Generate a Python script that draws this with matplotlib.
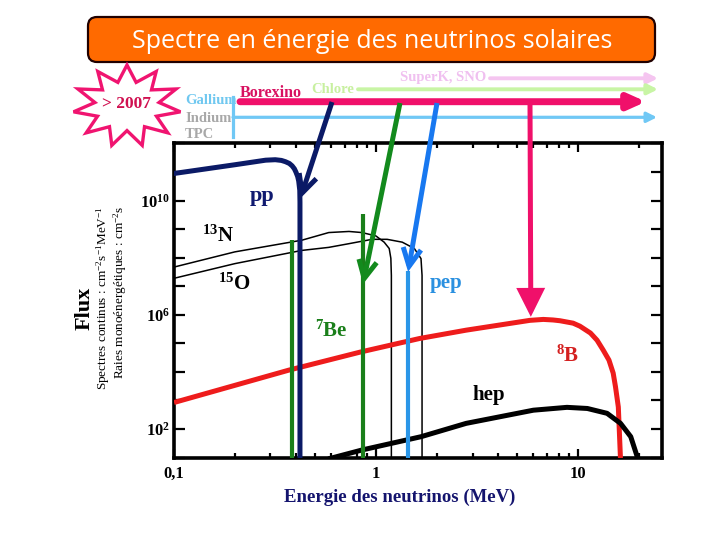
import matplotlib
matplotlib.use('Agg')
import matplotlib.pyplot as plt
from matplotlib.patches import FancyBboxPatch, Polygon
from matplotlib.ticker import FixedLocator, NullLocator, FixedFormatter, NullFormatter
import numpy as np

plt.rcParams['font.family'] = ['Liberation Serif', 'DejaVu Serif']
plt.rcParams['mathtext.fontset'] = 'custom'
plt.rcParams['mathtext.rm'] = 'Liberation Serif'
plt.rcParams['mathtext.bf'] = 'Liberation Serif:bold'
plt.rcParams['mathtext.it'] = 'Liberation Serif:italic'
plt.rcParams['mathtext.default'] = 'bf'

# ---------------- data ----------------
pp_E = [0.10, 0.20, 0.284, 0.317, 0.340, 0.356, 0.372, 0.384, 0.394, 0.401, 0.409, 0.414, 0.419, 0.420, 0.420]
pp_F = [8.9e10, 1.8e11, 2.6e11, 2.7e11, 2.55e11, 2.3e11, 2.0e11, 1.65e11, 1.3e11, 1.0e11, 7.0e10, 4.8e10,
        2.3e10, 8.9e9, 1.0]

n13_E = [0.10, 0.20, 0.429, 0.583, 0.734, 0.851, 0.997, 1.096, 1.161, 1.183, 1.19, 1.19]
n13_F = [4.7e7, 1.6e8, 4.1e8, 7.6e8, 8.3e8, 7.6e8, 5.8e8, 3.5e8, 2.1e8, 9.5e7, 2.4e7, 1.0]

o15_E = [0.10, 0.20, 0.429, 0.583, 0.734, 0.955, 1.134, 1.347, 1.546, 1.668, 1.688, 1.688]
o15_F = [1.9e7, 6.2e7, 1.8e8, 2.3e8, 3.1e8, 4.4e8, 4.4e8, 3.5e8, 2.1e8, 9.3e7, 2.4e7, 1.0]

b8_E = [0.10, 0.369, 0.839, 1.64, 2.79, 4.09, 5.77, 6.72, 7.51, 8.13, 9.44, 10.2, 11.5, 12.4,
        13.3, 14.2, 14.9, 15.3, 15.8, 16.3]
b8_F = [8.5e2, 1.15e4, 5.0e4, 1.48e5, 2.9e5, 4.4e5, 6.4e5, 6.9e5, 6.6e5, 6.2e5, 5.1e5, 4.0e5, 2.3e5, 1.29e5,
        5.8e4, 2.6e4, 9.1e3, 3.0e3, 5.9e2, 3.0]

hep_E = [0.58, 0.855, 1.67, 2.79, 6.0, 8.8, 11.1, 13.9, 16.2, 18.2, 19.6, 19.8]
hep_F = [9.0, 18.6, 54, 158, 457, 575, 525, 355, 158, 54, 10.7, 5.0]

be7_E = [0.384, 0.862]
be7_F = [4.1e8, 3.5e9]
pep_E = [1.44]
pep_F = [3.5e7]

# arrow tips (energy, flux) for the experiments' sensitivity arrows
tip_pp = (0.422, 1.2e10)
tip_be = (0.862, 1.2e7)
tip_pep = (1.44, 3.2e7)
tip_b8 = (5.83, 8.5e5)

x_ticks = [0.1, 1, 10]
x_ticklabels = ['0,1', '1', '10']
x_minor = [0.2, 0.3, 0.4, 0.5, 0.6, 0.7, 0.8, 0.9, 2, 3, 4, 5, 6, 7, 8, 9, 20]
y_ticks = [1e1, 1e2, 1e3, 1e4, 1e5, 1e6, 1e7, 1e8, 1e9, 1e10, 1e11, 1e12]
y_ticklabels = ['', r'$10^{2}$', '', '', '', r'$10^{6}$', '', '', '', r'$10^{10}$', '', '']

NAVY = '#0b1a66'
GREEN = '#1a7f1a'
PEP = '#2a96e8'
RED = '#ee1c1c'
PINK = '#f0106a'

fig = plt.figure(figsize=(7.2, 5.4), dpi=100)
ax = fig.add_axes([0.2417, 0.1526, 0.6778, 0.5817])
ax.set_xscale('log')
ax.set_yscale('log')

ax.plot(b8_E, b8_F, color=RED, lw=3.6, solid_capstyle='butt', solid_joinstyle='round', zorder=3)
ax.plot(hep_E, hep_F, color='black', lw=3.6, solid_capstyle='butt', solid_joinstyle='round', zorder=3)
ax.plot(n13_E, n13_F, color='black', lw=1.1, zorder=2)
ax.plot(o15_E, o15_F, color='black', lw=1.1, zorder=2)
ax.vlines(be7_E, 1.0, be7_F, color=GREEN, lw=3.0, zorder=4)
ax.vlines(pep_E, 1.0, pep_F, color=PEP, lw=3.0, zorder=4)
ax.plot(pp_E, pp_F, color=NAVY, lw=3.6, solid_joinstyle='round', zorder=5)

ax.set_xlim(0.1, 26)
ax.set_ylim(1e1, 1e12)

ax.xaxis.set_major_locator(FixedLocator(x_ticks))
ax.xaxis.set_major_formatter(FixedFormatter(x_ticklabels))
ax.xaxis.set_minor_locator(FixedLocator(x_minor))
ax.xaxis.set_minor_formatter(NullFormatter())
ax.yaxis.set_major_locator(FixedLocator(y_ticks))
ax.yaxis.set_major_formatter(FixedFormatter(y_ticklabels))
ax.yaxis.set_minor_locator(NullLocator())
ax.tick_params(which='both', direction='in', top=True, right=True, width=1.6)
ax.tick_params(axis='x', which='major', length=6.5, pad=6, labelsize=12)
ax.tick_params(axis='x', which='minor', length=3.8)
ax.tick_params(axis='y', which='major', length=8, pad=3, labelsize=12)
for lab in ax.get_xticklabels():
    lab.set_fontweight('bold')
for s in ax.spines.values():
    s.set_linewidth(2.6)

ax.set_xlabel('Energie des neutrinos (MeV)', color='#14146e', fontsize=13.5, fontweight='bold')
ax.xaxis.set_label_coords(0.463, -0.098)

# in-plot labels
ax.text(0.274, 1.4e10, 'pp', color='#101a70', fontsize=16, fontweight='bold', ha='center', va='center')
ax.text(0.166, 5.6e8, r'$^{13}$N', color='black', fontsize=15, fontweight='bold', ha='center', va='center')
ax.text(0.199, 1.2e7, r'$^{15}$O', color='black', fontsize=15, fontweight='bold', ha='center', va='center')
ax.text(2.23, 1.26e7, 'pep', color='#2a90e0', fontsize=15, fontweight='bold', ha='center', va='center')
ax.text(0.597, 2.7e5, r'$^{7}$Be', color=GREEN, fontsize=15, fontweight='bold', ha='center', va='center')
ax.text(8.91, 3.5e4, r'$^{8}$B', color='#d42020', fontsize=15, fontweight='bold', ha='center', va='center')
ax.text(3.61, 1.55e3, 'hep', color='black', fontsize=15, fontweight='bold', ha='center', va='center')

# overlay in image-pixel coordinates for header decorations
ov = fig.add_axes([0, 0, 1, 1], zorder=5)
ov.set_xlim(0, 720)
ov.set_ylim(540, 0)
ov.axis('off')
ov.patch.set_alpha(0)

box = FancyBboxPatch((88, 17), 567, 45, boxstyle='round,pad=0,rounding_size=9',
                     fc='#ff6a00', ec='#200000', lw=1.6)
ov.add_patch(box)
ov.text(372, 41, 'Spectre en énergie des neutrinos solaires', color='white', fontsize=18,
        family='Open Sans', ha='center', va='center')

# star
n = 11
ang = np.linspace(0, 2 * np.pi, 2 * n, endpoint=False) - np.pi / 2
rad = np.where(np.arange(2 * n) % 2 == 0, 1.0, 0.6)
star = Polygon(np.column_stack([127 + 54 * rad * np.cos(ang), 106 + 41 * rad * np.sin(ang)]),
               closed=True, fc='white', ec='#f01470', lw=2.4)
ov.add_patch(star)
ov.text(126, 104, '> 2007', color='#d01050', fontsize=12.5, fontweight='bold', ha='center', va='center')

def harrow(x0, x1, y, color, lw, hl, hw):
    ov.annotate('', xy=(x1, y), xytext=(x0, y),
                arrowprops=dict(arrowstyle='-|>,head_length=%g,head_width=%g' % (hl, hw),
                                color=color, lw=lw, shrinkA=0, shrinkB=0, mutation_scale=10))

harrow(490, 658, 78.3, '#f5c5f0', 2.8, 0.6, 0.3)
harrow(358, 658, 89.3, '#c8f5a5', 2.8, 0.6, 0.3)
harrow(240, 646, 101.7, PINK, 5.0, 1.0, 0.45)
harrow(233, 657, 117.3, '#70c8f5', 2.3, 0.6, 0.3)
ov.plot([233.3, 233.3], [97, 136.7], color='#70c8f5', lw=2.3)

ov.text(443, 78, 'SuperK, SNO', color='#f0c0f0', fontsize=10.5, fontweight='bold', ha='center', va='center')
ov.text(333, 89.5, 'Chlore', color='#c8f0a0', fontsize=10.5, fontweight='bold', ha='center', va='center')
ov.text(271, 93, 'Borexino', color='#d81060', fontsize=11.5, fontweight='bold', ha='center', va='center')
ov.text(185, 101, 'Gallium', color='#70c8f0', fontsize=10.5, fontweight='bold', ha='left', va='center')
ov.text(185, 118, 'Indium', color='#a8a8a8', fontsize=10.5, fontweight='bold', ha='left', va='center')
ov.text(185, 134, 'TPC', color='#a8a8a8', fontsize=10.5, fontweight='bold', ha='left', va='center')

def darrow(tail, tip, color, style):
    ov.annotate('', xy=tip, xycoords=ax.transData, xytext=tail, textcoords='data',
                arrowprops=dict(arrowstyle=style, color=color, lw=3.6, shrinkA=0, shrinkB=0,
                                mutation_scale=10, joinstyle='miter', capstyle='butt'))

darrow((332, 102), tip_pp, NAVY, '->,head_length=1.3,head_width=0.65')
darrow((400, 103), tip_be, '#138a1d', '->,head_length=1.3,head_width=0.65')
darrow((437, 103), tip_pep, '#1878f0', '->,head_length=1.3,head_width=0.65')
darrow((530, 102), tip_b8, PINK, '-|>,head_length=1.5,head_width=0.75')

# y-axis labels
ov.text(85, 308, 'Flux', fontsize=16, fontweight='bold', rotation=90, ha='center', va='center')
ov.text(103, 298, r'Spectres continus : cm$^{\mathrm{-2}}$s$^{\mathrm{-1}}$MeV$^{\mathrm{-1}}$',
        fontsize=9.5, rotation=90, ha='center', va='center')
ov.text(120, 292, r'Raies monoénergétiques : cm$^{\mathrm{-2}}$s',
        fontsize=9.5, rotation=90, ha='center', va='center')

fig.savefig('out.png', dpi=100)
